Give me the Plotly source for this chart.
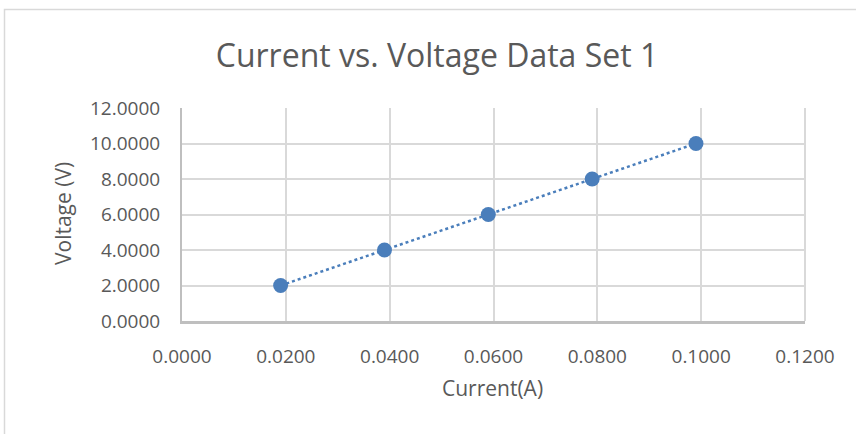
import plotly.graph_objects as go

current_a = [0.019, 0.039, 0.059, 0.079, 0.099]
voltage_v = [2.0, 4.0, 6.0, 8.0, 10.0]
x_ticks = [0.0, 0.02, 0.04, 0.06, 0.08, 0.10, 0.12]
y_ticks = [0, 2, 4, 6, 8, 10, 12]

W, H = 856, 434
# plot area in page pixels
PX0, PX1, PY0, PY1 = 182, 805, 108, 321
pw, ph = PX1 - PX0, PY1 - PY0

def px_x(p):
    return (p - PX0) / pw

def px_y(p):
    return 1 - (p - PY0) / ph

text_col = "#595959"
font = "Open Sans"
blue = "#4a7ebb"

fig = go.Figure()
fig.add_trace(go.Scatter(
    x=current_a, y=voltage_v, mode="lines+markers",
    line=dict(color=blue, width=2.5, dash="dot"),
    marker=dict(color=blue, size=15),
    cliponaxis=False, showlegend=False,
))

fig.update_layout(
    width=W, height=H,
    margin=dict(l=PX0, r=W - PX1, t=PY0, b=H - PY1, pad=0),
    paper_bgcolor="white", plot_bgcolor="white",
    title=dict(text="Current vs. Voltage Data Set 1", x=437 / W, xanchor="center",
               y=1 - 56 / H, yanchor="middle",
               font=dict(family=font, size=32, color=text_col)),
    xaxis=dict(range=[0, 0.12], tickvals=x_ticks,
               ticktext=[f"{v:.4f}" for v in x_ticks],
               showgrid=True, gridcolor="#d9d9d9", gridwidth=2,
               showline=True, linecolor="#bfbfbf", linewidth=2.5,
               zeroline=False, ticks="", ticklabelstandoff=16,
               tickfont=dict(family=font, size=19, color=text_col)),
    yaxis=dict(range=[0, 12], tickvals=y_ticks,
               ticktext=[f"{v:.4f}" for v in y_ticks],
               showgrid=True, gridcolor="#d9d9d9", gridwidth=2,
               showline=True, linecolor="#bfbfbf", linewidth=2,
               zeroline=False, ticks="", ticklabelstandoff=16,
               tickfont=dict(family=font, size=19, color=text_col)),
    annotations=[
        dict(text="Current(A)", xref="paper", yref="paper",
             x=px_x(492), y=px_y(388), xanchor="center", yanchor="middle",
             showarrow=False, font=dict(family=font, size=21, color=text_col)),
        dict(text="Voltage (V)", xref="paper", yref="paper",
             x=px_x(63), y=px_y(214), xanchor="center", yanchor="middle",
             textangle=-90, showarrow=False,
             font=dict(family=font, size=21, color=text_col)),
    ],
    shapes=[
        dict(type="rect", xref="paper", yref="paper",
             x0=px_x(4.5), x1=px_x(900), y0=px_y(520), y1=px_y(9.5),
             line=dict(color="#d9d9d9", width=1.5), fillcolor="rgba(0,0,0,0)",
             layer="below"),
        dict(type="line", xref="paper", yref="paper",
             x0=1, x1=1, y0=0, y1=1,
             line=dict(color="#d9d9d9", width=2), layer="below"),
    ],
)

fig.write_html("out.html", config={"displayModeBar": False},
               post_script="document.body.style.margin='0';")
